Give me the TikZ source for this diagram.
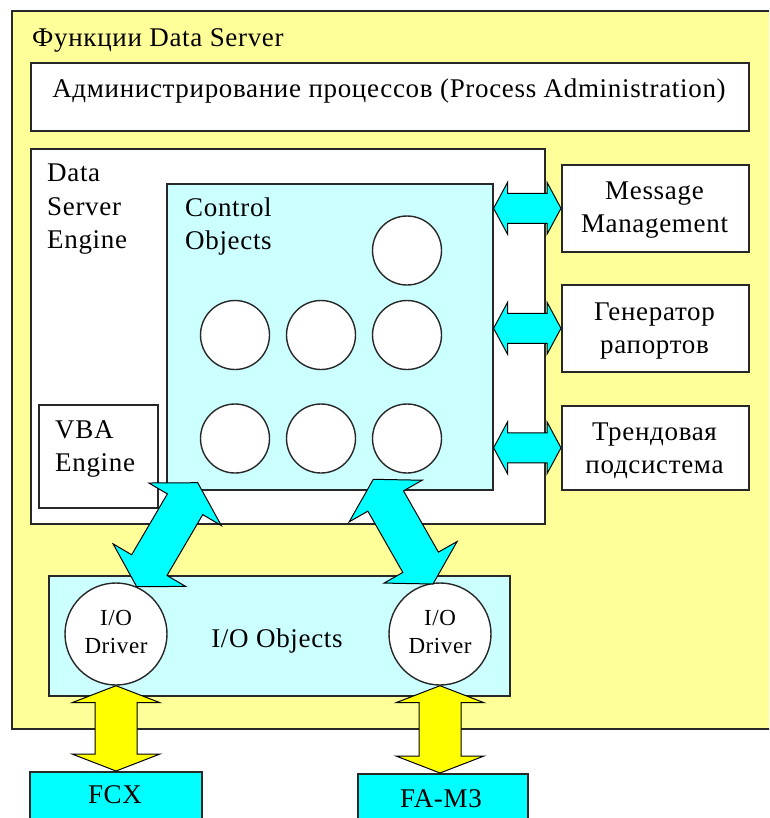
\documentclass[tikz,border=0pt]{standalone}
\usepackage{fontspec}
\setmainfont{Liberation Serif}[LetterSpace=2.5]
\usetikzlibrary{calc}

\definecolor{panel}{RGB}{255,255,153}
\definecolor{paleaqua}{RGB}{204,255,255}
\definecolor{aqua}{RGB}{0,255,255}
\definecolor{lemon}{RGB}{255,255,0}
\definecolor{edge}{RGB}{40,40,40}

% Flat double-headed block arrow between two points:
% #1 start, #2 end, #3 half shaft width, #4 half head width, #5 head length, #6 style
\newcommand\fatarrow[6]{%
  \draw[#6] (#1)
    -- ($(#1)!#5!(#2)!#4!90:(#2)$) -- ($(#1)!#5!(#2)!#3!90:(#2)$)
    -- ($(#2)!#5!(#1)!#3!-90:(#1)$) -- ($(#2)!#5!(#1)!#4!-90:(#1)$)
    -- (#2)
    -- ($(#2)!#5!(#1)!#4!90:(#1)$) -- ($(#2)!#5!(#1)!#3!90:(#1)$)
    -- ($(#1)!#5!(#2)!#3!-90:(#2)$) -- ($(#1)!#5!(#2)!#4!-90:(#2)$)
    -- cycle;}

\begin{document}
\begin{tikzpicture}[x=1pt, y=-1pt,
  box/.style={draw=edge, line width=1.6pt, fill=white, inner sep=0pt, anchor=north west},
  obj/.style={circle, draw=edge, line width=1.4pt, fill=white, inner sep=0pt, minimum size=69pt},
  drv/.style={circle, draw=edge, line width=1.4pt, fill=white, inner sep=0pt, minimum size=102pt},
  lbl/.style={inner sep=0pt, font=\fontsize{27}{33}\selectfont},
  small/.style={inner sep=0pt, font=\fontsize{23}{28}\selectfont},
  cyanarrow/.style={fill=aqua, draw=black, line width=1pt, line join=miter},
  yellowarrow/.style={fill=lemon, draw=black, line width=1pt, line join=miter}]

\useasboundingbox (0,0) rectangle (769,818);
\fill[white] (0,0) rectangle (769,818);
\clip (0,0) rectangle (769,818);

% outer panel
\node[box, fill=panel, minimum width=775pt, minimum height=718pt] (panel) at (11,10) {};
\node[lbl, anchor=base west] (title) at (32,47) {Функции Data Server};

% process administration
\node[box, minimum width=718pt, minimum height=68pt] (pa) at (30,62) {};
\node[lbl, anchor=base] (patext) at (389,98) {Администрирование процессов (Process Administration)};

% data server engine
\node[box, minimum width=514pt, minimum height=375pt] (dse) at (30,148) {};
\node[lbl, anchor=base west] (dse1) at (47,182) {Data};
\node[lbl, anchor=base west] (dse2) at (47,215) {Server};
\node[lbl, anchor=base west] (dse3) at (47,248) {Engine};

% VBA engine
\node[box, minimum width=119pt, minimum height=103pt] (vba) at (38,404) {};
\node[lbl, anchor=base west] (vba1) at (55,438) {VBA};
\node[lbl, anchor=base west] (vba2) at (55,471) {Engine};

% control objects
\node[box, fill=paleaqua, minimum width=326pt, minimum height=306pt] (co) at (166,183) {};
\node[lbl, anchor=base west] (co1) at (185,216) {Control};
\node[lbl, anchor=base west] (co2) at (185,249) {Objects};
\node[obj] (o1) at (407,250.5) {};
\node[obj] (o2) at (235,335) {};
\node[obj] (o3) at (321,335) {};
\node[obj] (o4) at (407,335) {};
\node[obj] (o5) at (235,438.5) {};
\node[obj] (o6) at (321,438.5) {};
\node[obj] (o7) at (407,438.5) {};

% side services
\node[box, minimum width=187pt, minimum height=87pt] (msg) at (561,164) {};
\node[lbl, anchor=base] (msg1) at (654.5,200) {Message};
\node[lbl, anchor=base] (msg2) at (654.5,233) {Management};
\node[box, minimum width=187pt, minimum height=87pt] (gen) at (561,284) {};
\node[lbl, anchor=base] (gen1) at (654.5,320) {Генератор};
\node[lbl, anchor=base] (gen2) at (654.5,353) {рапортов};
\node[box, minimum width=187pt, minimum height=84pt] (trend) at (561,405) {};
\node[lbl, anchor=base] (trend1) at (654.5,440) {Трендовая};
\node[lbl, anchor=base] (trend2) at (654.5,473) {подсистема};

% I/O objects
\node[box, fill=paleaqua, minimum width=461pt, minimum height=120pt] (io) at (48,575) {};
\node[lbl, anchor=base] (iotext) at (277,647) {I/O Objects};
\node[drv] (drv1) at (116,634) {};
\node[small, anchor=base] (drv1a) at (116,625) {I/O};
\node[small, anchor=base] (drv1b) at (116,653) {Driver};
\node[drv] (drv2) at (440,634) {};
\node[small, anchor=base] (drv2a) at (440,625) {I/O};
\node[small, anchor=base] (drv2b) at (440,653) {Driver};

% controllers
\node[box, fill=aqua, minimum width=172pt, minimum height=70pt] (fcx) at (29,771) {};
\node[lbl, anchor=base] (fcxtext) at (115,803) {FCX};
\node[box, fill=aqua, minimum width=170pt, minimum height=70pt] (fam) at (357,773) {};
\node[lbl, anchor=base] (famtext) at (441,807) {FA-M3};

% arrow end points
\coordinate (m1) at (co.east |- msg.west);
\coordinate (g1) at (co.east |- gen.west);
\coordinate (t1) at (co.east |- trend.west);
\coordinate (d1a) at (197.7,482.7);
\coordinate (d1b) at (136.7,586.7);
\coordinate (d2a) at (373.3,479.3);
\coordinate (d2b) at (433,584);
\coordinate (y1b) at (drv1.south |- fcx.north);
\coordinate (y2b) at (drv2.south |- fam.north);

% links to the services
\fatarrow{m1}{msg.west}{15pt}{26pt}{14pt}{cyanarrow}
\fatarrow{g1}{gen.west}{15pt}{26pt}{14pt}{cyanarrow}
\fatarrow{t1}{trend.west}{15pt}{26pt}{14pt}{cyanarrow}

% links between control objects and I/O objects
\fatarrow{d1a}{d1b}{20.5pt}{42pt}{25pt}{cyanarrow}
\fatarrow{d2a}{d2b}{20.5pt}{42pt}{25pt}{cyanarrow}

% field links
\fatarrow{drv1.south}{y1b}{21pt}{44pt}{17pt}{yellowarrow}
\fatarrow{drv2.south}{y2b}{21pt}{44pt}{17pt}{yellowarrow}
\end{tikzpicture}
\end{document}
